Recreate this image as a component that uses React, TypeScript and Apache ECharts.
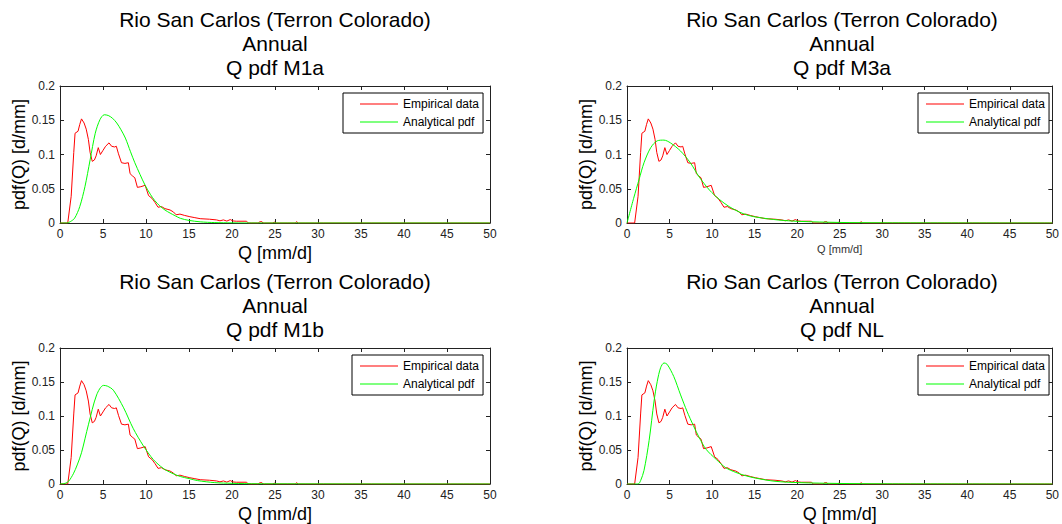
import React, { useEffect, useRef } from "react";
import * as echarts from "echarts";

const FONT = "'Liberation Sans', Arial, Helvetica, sans-serif";

const stationTitle = "Rio San Carlos (Terron Colorado)";
const periodTitle = "Annual";
const panelNames = ["Q pdf M1a", "Q pdf M3a", "Q pdf M1b", "Q pdf NL"];
const seriesNames = ["Empirical data", "Analytical pdf"];
const xAxisName = "Q [mm/d]";
const yAxisName = "pdf(Q) [d/mm]";

const empiricalQ = [0, 0.9, 1.3, 1.6, 1.75, 2.1, 2.3, 2.5, 2.8, 3.05, 3.3, 3.5, 3.75, 4.0, 4.2, 4.45, 4.7, 5.0, 5.3, 5.7, 6.0, 6.35, 6.55, 6.8, 7.15, 7.55, 7.95, 8.15, 8.4, 8.7, 9.0, 9.4, 9.9, 10.3, 10.7, 11.05, 11.4, 11.8, 12.2, 12.8, 13.2, 13.5, 13.95, 14.5, 15.1, 15.6, 16.3, 17.4, 18.2, 18.6, 19.0, 19.4, 19.8, 20.1, 20.5, 21.7, 21.9, 23.1, 23.2, 23.5, 23.6, 24.8, 24.9, 25.1, 27.4, 27.5, 27.7, 50];
const empiricalPdf = [0, 0, 0.039, 0.103, 0.131, 0.134, 0.144, 0.152, 0.146, 0.137, 0.122, 0.103, 0.09, 0.092, 0.098, 0.11, 0.1, 0.106, 0.112, 0.117, 0.112, 0.111, 0.112, 0.101, 0.088, 0.087, 0.088, 0.072, 0.069, 0.066, 0.052, 0.053, 0.055, 0.04, 0.036, 0.03, 0.023, 0.024, 0.021, 0.019, 0.016, 0.012, 0.013, 0.011, 0.0092, 0.008, 0.0063, 0.0055, 0.0045, 0.0032, 0.0045, 0.0028, 0.005, 0.003, 0.0026, 0.0026, 0, 0, 0.0018, 0.0018, 0, 0, 0.0015, 0, 0, 0.002, 0, 0];

const m1aQ = [0, 0.8, 1.2, 1.7, 2.3, 2.9, 3.5, 4.1, 4.65, 5.15, 5.6, 6.1, 6.6, 7.1, 7.6, 8.2, 8.7, 9.3, 9.9, 10.5, 11.0, 11.6, 12.2, 12.8, 13.4, 14.0, 15.0, 16.3, 18.0, 20.0, 23.0, 50];
const m1aPdf = [0, 0, 0.002, 0.007, 0.024, 0.053, 0.092, 0.131, 0.151, 0.158, 0.157, 0.153, 0.146, 0.136, 0.124, 0.104, 0.088, 0.071, 0.055, 0.042, 0.033, 0.025, 0.019, 0.0145, 0.0105, 0.0068, 0.0038, 0.0017, 0.0006, 0.0002, 0, 0];

const m3aQ = [0, 0.78, 1.43, 2.0, 2.79, 3.56, 4.34, 5.1, 6.3, 7.44, 8.5, 9.7, 10.85, 12.0, 13.2, 14.3, 15.5, 17.8, 20.2, 25, 30, 50];
const m3aPdf = [0, 0.036, 0.064, 0.088, 0.11, 0.12, 0.121, 0.117, 0.105, 0.088, 0.067, 0.048, 0.0345, 0.024, 0.016, 0.011, 0.008, 0.0044, 0.0024, 0.0008, 0.0003, 0];

const m1bQ = [0, 0.6, 1.0, 1.55, 2.0, 2.5, 3.3, 4.26, 5.05, 5.5, 6.2, 7.4, 8.5, 9.7, 10.85, 12, 13, 14, 15, 16, 18, 20, 23, 50];
const m1bPdf = [0, 0.001, 0.004, 0.015, 0.028, 0.046, 0.087, 0.131, 0.145, 0.144, 0.138, 0.112, 0.082, 0.056, 0.036, 0.023, 0.016, 0.011, 0.008, 0.005, 0.002, 0.001, 0.0003, 0];

const nlQ = [0, 1.3, 1.6, 2.0, 2.6, 3.18, 3.56, 3.95, 4.35, 4.72, 5.5, 6.3, 7.05, 7.8, 8.5, 9.3, 10.5, 11.6, 12.8, 14, 15.1, 17.4, 20.2, 25, 30, 50];
const nlPdf = [0, 0, 0.005, 0.02, 0.064, 0.122, 0.151, 0.171, 0.178, 0.176, 0.158, 0.131, 0.107, 0.086, 0.068, 0.051, 0.036, 0.024, 0.017, 0.012, 0.0087, 0.004, 0.002, 0.0008, 0.0003, 0];

const analyticalQ = [m1aQ, m3aQ, m1bQ, nlQ];
const analyticalPdf = [m1aPdf, m3aPdf, m1bPdf, nlPdf];

const xTickInterval = 5;
const yTickInterval = 0.05;

const zip = (xs: number[], ys: number[]) => xs.map((x, i) => [x, ys[i]]);

// layout (pixels)
const grids = [
  { left: 60, top: 86 },
  { left: 627, top: 86 },
  { left: 60, top: 348 },
  { left: 627, top: 348 },
];
const gridW = 430;
const gridH = 137;
const legendPos = [
  { left: 343, top: 93, padLeft: 17 },
  { left: 918, top: 93, padLeft: 8 },
  { left: 352, top: 355, padLeft: 8 },
  { left: 918, top: 355, padLeft: 8 },
];
const AXIS_COLOR = "#222";

export default function App() {
  const ref = useRef<HTMLDivElement>(null);
  useEffect(() => {
    if (!ref.current) return;
    const chart = echarts.init(ref.current, undefined, { renderer: "svg" });

    const xAxes: any[] = [];
    const yAxes: any[] = [];
    const series: any[] = [];
    const titles: any[] = [];
    const legends: any[] = [];

    grids.forEach((g, i) => {
      const small = i === 1;
      const baseX = {
        type: "value",
        gridIndex: i,
        min: 0,
        max: 50,
        interval: xTickInterval,
        splitLine: { show: false },
        axisLine: { show: true, onZero: false, lineStyle: { color: AXIS_COLOR, width: 1 } },
        axisTick: { show: true, inside: true, length: 4, lineStyle: { color: AXIS_COLOR } },
      };
      xAxes.push({
        ...baseX,
        position: "bottom",
        axisLabel: { show: true, fontSize: 12, color: AXIS_COLOR, fontFamily: FONT, margin: 5, showMaxLabel: true, showMinLabel: true },
        name: xAxisName,
        nameLocation: "middle",
        nameGap: small ? 20 : 21,
        nameTextStyle: { fontSize: small ? 11 : 18, color: small ? "#333" : "#000", fontFamily: FONT },
      });
      xAxes.push({ ...baseX, position: "top", axisLabel: { show: false } });

      const baseY = {
        type: "value",
        gridIndex: i,
        min: 0,
        max: 0.2,
        interval: yTickInterval,
        splitLine: { show: false },
        axisLine: { show: true, onZero: false, lineStyle: { color: AXIS_COLOR, width: 1 } },
        axisTick: { show: true, inside: true, length: 4, lineStyle: { color: AXIS_COLOR } },
      };
      yAxes.push({
        ...baseY,
        position: "left",
        axisLabel: { show: true, fontSize: 12, color: AXIS_COLOR, fontFamily: FONT, margin: 5 },
        name: yAxisName,
        nameLocation: "middle",
        nameGap: 31,
        nameTextStyle: { fontSize: 18, color: "#000", fontFamily: FONT },
      });
      yAxes.push({ ...baseY, position: "right", axisLabel: { show: false } });

      series.push({
        type: "line",
        name: seriesNames[0],
        xAxisIndex: 2 * i,
        yAxisIndex: 2 * i,
        data: zip(empiricalQ, empiricalPdf),
        symbol: "none",
        color: "#ff0000",
        lineStyle: { color: "#ff0000", width: 1 },
      });
      series.push({
        type: "line",
        name: seriesNames[1],
        xAxisIndex: 2 * i,
        yAxisIndex: 2 * i,
        data: zip(analyticalQ[i], analyticalPdf[i]),
        symbol: "none",
        smooth: 0.3,
        color: "#00ff00",
        lineStyle: { color: "#00ff00", width: 1 },
      });

      titles.push({
        text: `${stationTitle}\n${periodTitle}\n${panelNames[i]}`,
        left: g.left + gridW / 2,
        top: g.top - 78,
        padding: 0,
        textAlign: "center",
        textStyle: { fontSize: 21, fontWeight: "normal", color: "#000", fontFamily: FONT, lineHeight: 23.7 },
      });

      const lp = legendPos[i];
      legends.push({
        data: seriesNames.map((n) => ({ name: n, icon: "rect" })),
        orient: "vertical",
        left: lp.left,
        top: lp.top,
        padding: [4, 4, 4, lp.padLeft],
        itemGap: 4,
        itemWidth: 38,
        itemHeight: 1,
        borderColor: "#000",
        borderWidth: 1,
        borderRadius: 0,
        backgroundColor: "#fff",
        selectedMode: false,
        textStyle: { fontSize: 12, color: "#000", fontFamily: FONT, lineHeight: 14 },
      });
    });

    chart.setOption({
      animation: false,
      backgroundColor: "#fff",
      textStyle: { fontFamily: FONT },
      title: titles,
      legend: legends,
      grid: grids.map((g) => ({ left: g.left, top: g.top, width: gridW, height: gridH, containLabel: false })),
      xAxis: xAxes,
      yAxis: yAxes,
      series,
    });
    return () => chart.dispose();
  }, []);

  return <div ref={ref} style={{ position: "absolute", left: 0, top: 0, width: 1062, height: 524 }} />;
}
